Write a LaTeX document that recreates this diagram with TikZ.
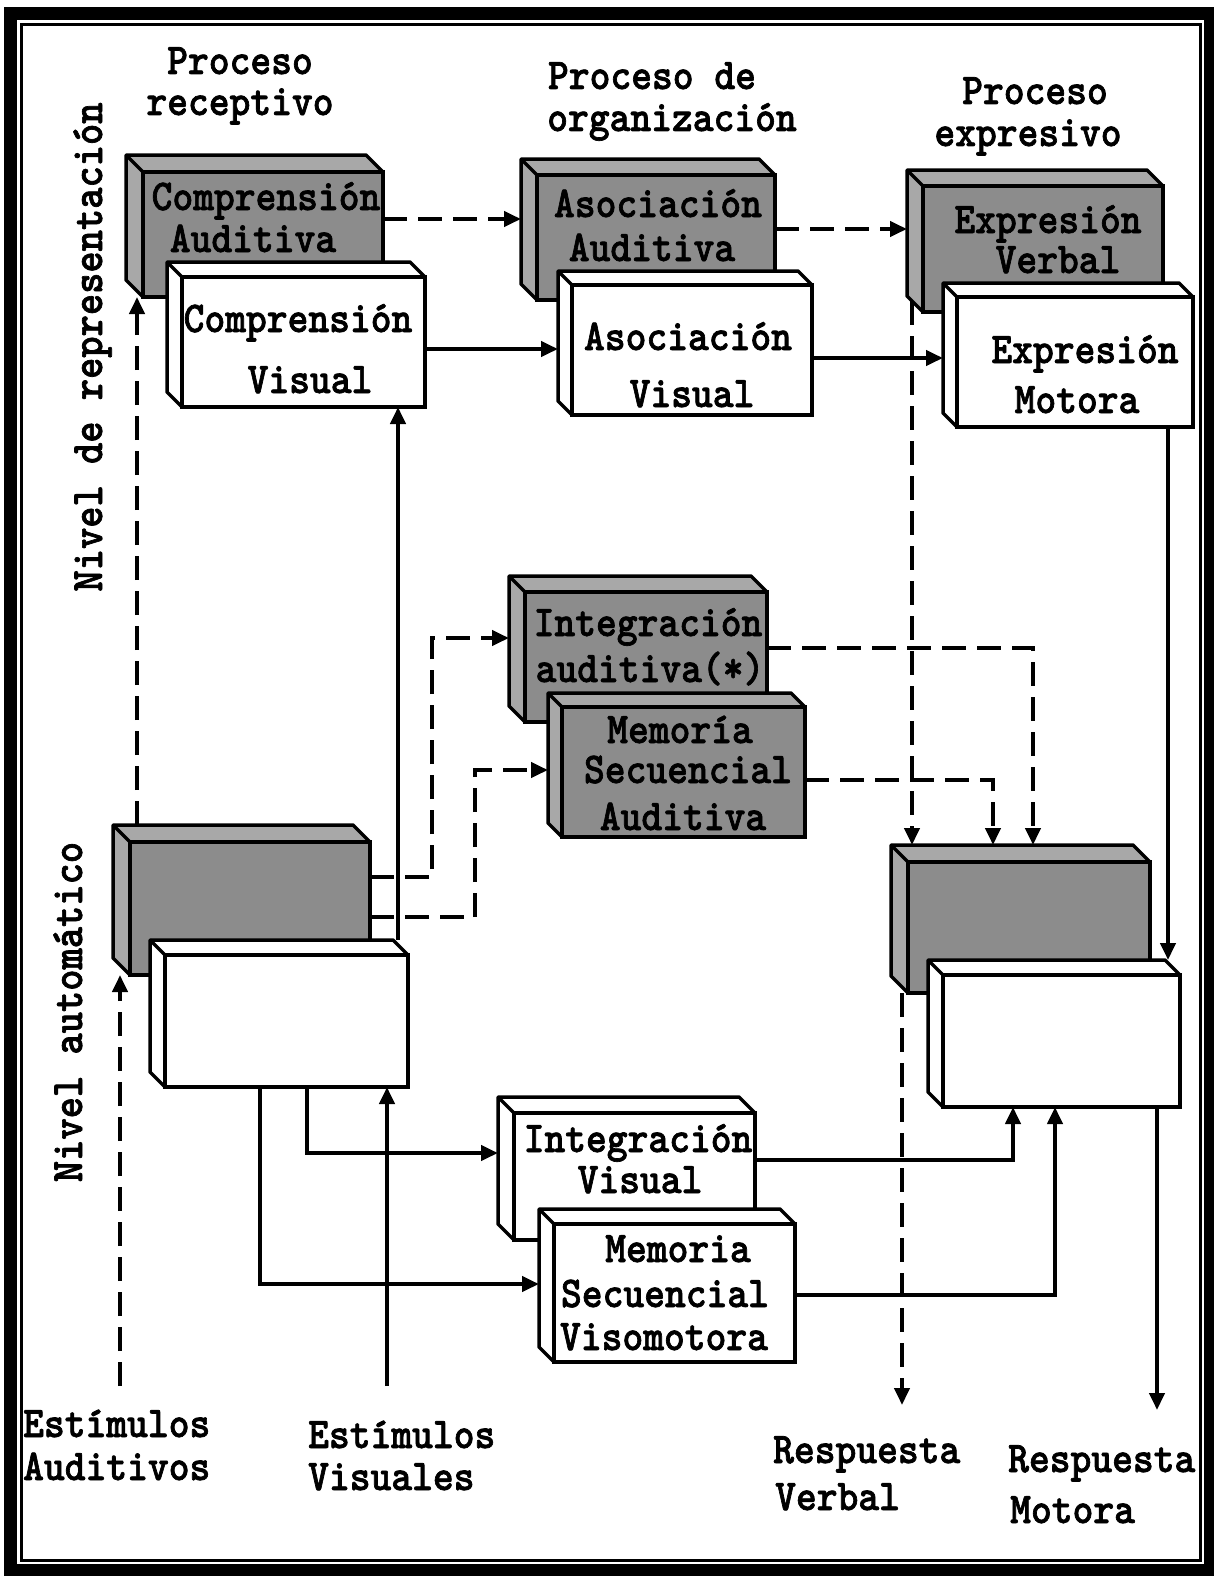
\documentclass[tikz,border=0pt]{standalone}
\usepackage{fontspec}
\newfontfamily\tw{lmmonolt10-bold.otf}[FakeStretch=0.9, FakeBold=1.5]
\usetikzlibrary{arrows.meta}
\definecolor{gfrontc}{gray}{0.55}
\definecolor{gsidec}{gray}{0.66}
\tikzset{
  lbl/.style={font=\tw\fontsize{44}{44}\selectfont, inner sep=0pt, anchor=base},
  lblw/.style={lbl, anchor=base west},
  boxbase/.style={draw=black, line width=3.5pt, inner sep=0pt, outer sep=0pt},
  gfront/.style={boxbase, fill=gfrontc},
  wfront/.style={boxbase, fill=white},
  gside/.style={fill=gsidec, draw=black},
  wside/.style={fill=white, draw=black},
  ln/.style={line width=4pt, -{Triangle[length=17pt,width=15pt]}},
  dln/.style={ln, dash pattern=on 24pt off 11pt},
}
\newcommand\cubebox[7]{%
  \pgfmathsetmacro\bw{#4-#2}%
  \pgfmathsetmacro\bh{#5-#3}%
  \filldraw[#7side, line width=3.5pt, line join=round] (#2-#6,#5-#6) -- (#2-#6,#3-#6) -- (#4-#6,#3-#6) -- (#4,#3) -- (#2,#3) -- (#2,#5) -- cycle;
  \draw[line width=3.5pt] (#2-#6,#3-#6) -- (#2,#3);
  \coordinate (#1-b) at (#2-#6,#3-#6);
  \node[#7front, minimum width=\bw pt, minimum height=\bh pt] (#1) at ({(#2+#4)/2},{(#3+#5)/2}) {};
}
\begin{document}
\begin{tikzpicture}[x=1pt,y=-1pt]
\useasboundingbox (0,0) rectangle (1214,1576);
\fill[white] (0,0) rectangle (1214,1576);
% frame
\fill[black] (4,7) rectangle (1214,1576);
\fill[white] (17,20) rectangle (1204,1564);
\draw[line width=3pt] (21.5,24.5) rectangle (1200,1560.5);

% headers
\node[lbl] (h1a) at (240,74) {Proceso};
\node[lbl] (h1b) at (240,115) {receptivo};
\node[lbl] (h2a) at (652,89) {Proceso de};
\node[lbl] (h2b) at (672,131) {organización};
\node[lbl] (h3a) at (1035,104) {Proceso};
\node[lbl] (h3b) at (1028,146) {expresivo};

% side labels
\node[lbl, rotate=90, font=\tw\fontsize{45}{45}\selectfont] (nr) at (102,347) {Nivel de representación};
\node[lbl, rotate=90, font=\tw\fontsize{45}{45}\selectfont] (na) at (82,1012) {Nivel automático};

% boxes: representation level
\cubebox{ca}{143}{172}{383}{297}{17}{g}
\node[lbl] (ca1) at (266,210) {Comprensión};
\node[lbl] (ca2) at (253,252) {Auditiva};
\cubebox{cv}{182}{277}{425}{407}{15}{w}
\node[lbl] (cv1) at (298,332) {Comprensión};
\node[lbl] (cv2) at (310,393) {Visual};

\cubebox{aa}{537}{175}{775}{300}{16}{g}
\node[lbl] (aa1) at (658,217) {Asociación};
\node[lbl] (aa2) at (652,261) {Auditiva};
\cubebox{av}{572}{285}{812}{415}{14}{w}
\node[lbl] (av1) at (688,350) {Asociación};
\node[lbl] (av2) at (692,407) {Visual};

\cubebox{ev}{923}{186}{1163}{312}{16}{g}
\node[lbl] (ev1) at (1048,233) {Expresión};
\node[lbl] (ev2) at (1058,273) {Verbal};
\cubebox{em}{957}{297}{1193}{427}{14}{w}
\node[lbl] (em1) at (1085,363) {Expresión};
\node[lbl] (em2) at (1077,413) {Motora};

% middle
\cubebox{ia}{525}{592}{767}{722}{16}{g}
\node[lbl] (ia1) at (648,636) {Integración};
\node[lbl] (ia2) at (650,682) {auditiva(*)};
\cubebox{ms}{562}{707}{805}{837}{14}{g}
\node[lbl] (ms1) at (680,743) {Memoría};
\node[lbl] (ms2) at (688,783) {Secuencial};
\node[lbl] (ms3) at (683,830) {Auditiva};

% automatic level
\cubebox{lg}{130}{842}{370}{975}{17}{g}
\cubebox{lw}{165}{955}{408}{1087}{15}{w}
\cubebox{rg}{908}{862}{1150}{993}{17}{g}
\cubebox{rw}{943}{975}{1180}{1107}{15}{w}

\cubebox{iv}{514}{1113}{755}{1240}{16}{w}
\node[lbl] (iv1) at (638,1152) {Integración};
\node[lbl] (iv2) at (640,1193) {Visual};
\cubebox{mv}{554}{1224}{795}{1362}{15}{w}
\node[lbl] (mv1) at (678,1262) {Memoria};
\node[lbl] (mv2) at (665,1307) {Secuencial};
\node[lbl] (mv3) at (664,1350) {Visomotora};

% bottom labels
\node[lblw] (ea1) at (23,1437) {Estímulos};
\node[lblw] (ea2) at (23,1480) {Auditivos};
\node[lblw] (es1) at (308,1448) {Estímulos};
\node[lblw] (es2) at (308,1490) {Visuales};
\node[lblw] (rv1) at (773,1463) {Respuesta};
\node[lblw] (rv2) at (775,1510) {Verbal};
\node[lblw] (rm1) at (1008,1472) {Respuesta};
\node[lblw] (rm2) at (1010,1523) {Motora};

% connectors, top row
\coordinate (h1) at (0,219);
\draw[dln] (ca.east |- h1) -- (aa-b |- h1);
\coordinate (h2) at (0,229);
\draw[dln] (aa.east |- h2) -- (ev-b |- h2);
\coordinate (h3) at (0,349);
\draw[ln] (cv.east |- h3) -- (av-b |- h3);
\coordinate (h4) at (0,358);
\draw[ln] (av.east |- h4) -- (em-b |- h4);

% stimuli
\coordinate (sa) at (120,1386);
\draw[dln] (sa) -- (sa |- lg.south);
\coordinate (sa3) at (137,0);
\draw[dln] (sa3 |- lg-b) -- (sa3 |- ca.south);
\coordinate (sv) at (387,1386);
\draw[ln] (sv) -- (sv |- lw.south);
\coordinate (vx) at (398,0);
\draw[ln] (vx |- lw-b) -- (vx |- cv.south);

% auditory automatic to middle
\coordinate (d1) at (432,877);
\coordinate (d1t) at (432,638);
\draw[dln] (lg.east |- d1) -- (d1) -- (d1t) -- (ia-b |- d1t);
\coordinate (d2) at (475,917);
\coordinate (d2t) at (475,770);
\draw[dln] (lg.east |- d2) -- (d2) -- (d2t) -- (ms-b |- d2t);

% middle to right automatic
\coordinate (d3) at (1033,648);
\draw[dln] (ia.east |- d3) -- (d3) -- (d3 |- rg-b);
\coordinate (d4) at (993,780);
\draw[dln] (ms.east |- d4) -- (d4) -- (d4 |- rg-b);
\coordinate (d5) at (912,301);
\draw[dln] (d5) -- (d5 |- rg-b);

% responses
\coordinate (rv) at (902,1405);
\draw[dln] (rv |- rg.south) -- (rv);
\coordinate (mx) at (1168,0);
\draw[ln] (mx |- em.south) -- (mx |- rw-b);
\coordinate (rm) at (1157,1410);
\draw[ln] (rm |- rw.south) -- (rm);

% visual automatic
\coordinate (s1) at (1013,1160);
\draw[ln] (iv.east |- s1) -- (s1) -- (s1 |- rw.south);
\coordinate (s2) at (1055,1295);
\draw[ln] (mv.east |- s2) -- (s2) -- (s2 |- rw.south);
\coordinate (s3) at (307,1153);
\draw[ln] (s3 |- lw.south) -- (s3) -- (iv-b |- s3);
\coordinate (s4) at (260,1284);
\draw[ln] (s4 |- lw.south) -- (s4) -- (mv-b |- s4);
\end{tikzpicture}
\end{document}
